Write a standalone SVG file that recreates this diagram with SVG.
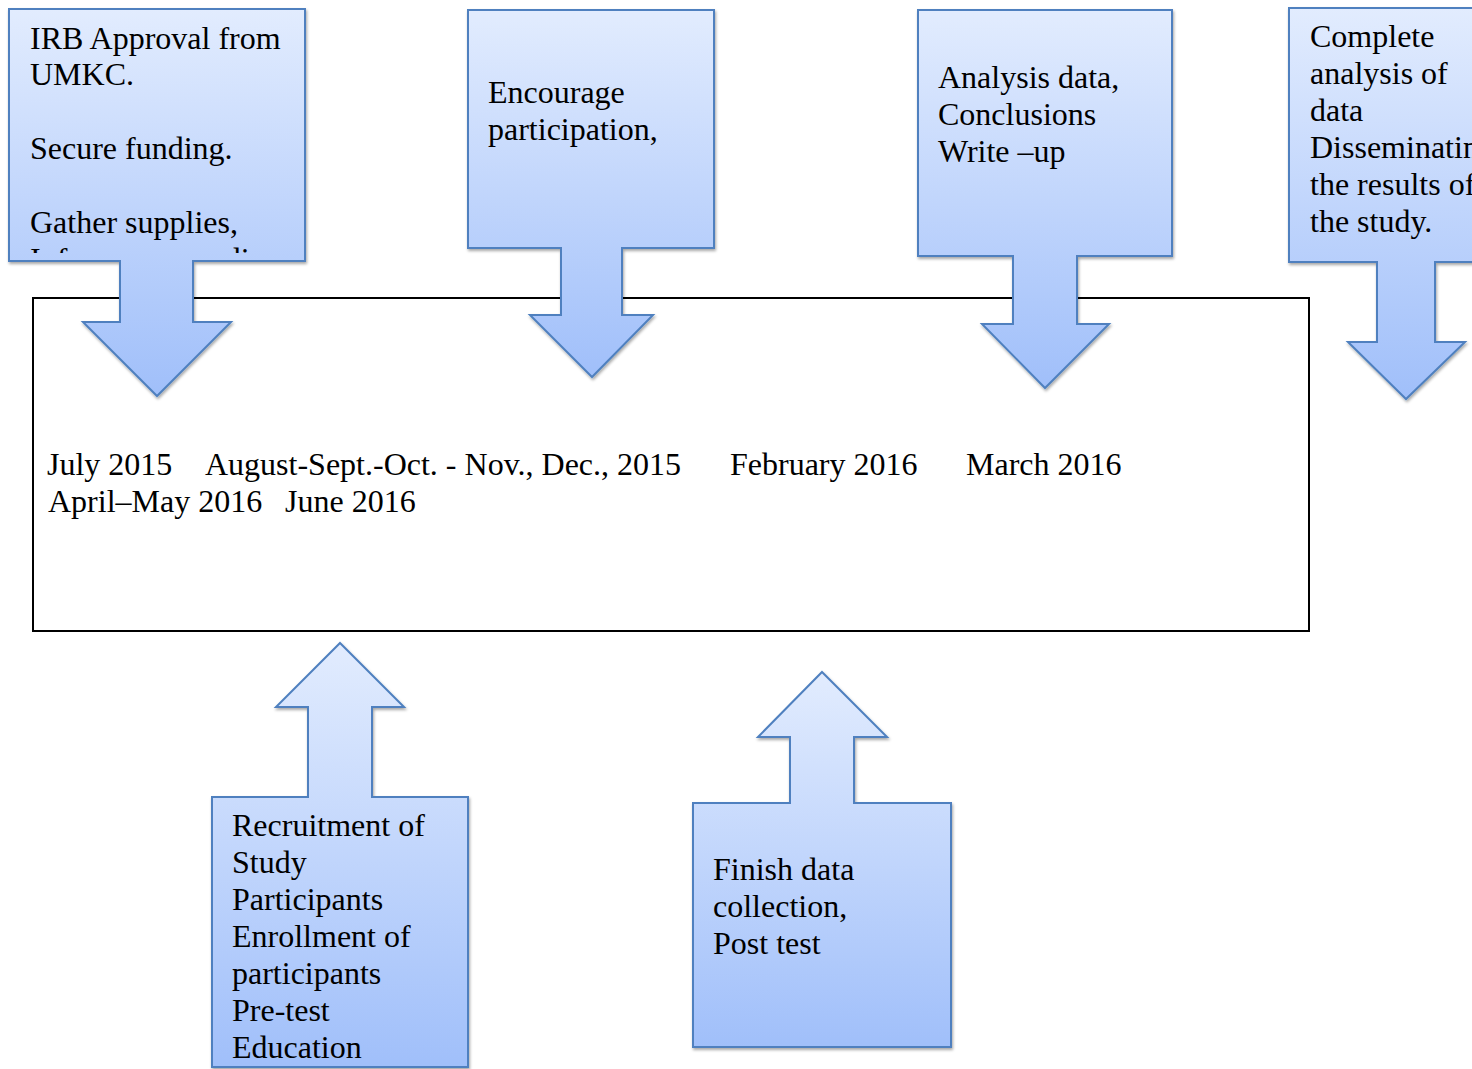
<svg xmlns="http://www.w3.org/2000/svg" width="1472" height="1069" viewBox="0 0 1472 1069">
<defs>
<linearGradient id="g" x1="0" y1="0" x2="0" y2="1">
<stop offset="0" stop-color="#e2ecfe"/>
<stop offset="1" stop-color="#a0bffa"/>
</linearGradient>
<filter id="sh" x="-5%" y="-5%" width="115%" height="115%">
<feGaussianBlur in="SourceAlpha" stdDeviation="1.5"/>
<feOffset dx="1" dy="2" result="b"/>
<feComponentTransfer><feFuncA type="linear" slope="0.35"/></feComponentTransfer>
<feMerge><feMergeNode/><feMergeNode in="SourceGraphic"/></feMerge>
</filter>
<clipPath id="c1"><rect x="9" y="9" width="296" height="244"/></clipPath>
</defs>
<style>
.co{fill:url(#g);stroke:#4f80bf;stroke-width:2;filter:url(#sh)}
.t{font-family:"Liberation Serif","Times New Roman",serif;font-size:32px;fill:#000}
.frame{fill:#fff;stroke:#000;stroke-width:2}
</style>
<rect width="1472" height="1069" fill="#fff"/>
<g id="timeline">
<rect class="frame" x="33" y="298" width="1276" height="333"/>
<text class="t" x="47" y="475">July 2015</text>
<text class="t" x="205" y="475">August-Sept.-Oct. - Nov., Dec., 2015</text>
<text class="t" x="730" y="475">February 2016</text>
<text class="t" x="966" y="475">March 2016</text>
<text class="t" x="48" y="512">April–May 2016</text>
<text class="t" x="285" y="512">June 2016</text>
</g>
<g id="connectors"></g>
<g id="callout-july">
<path class="co" d="M9,9 H305 V261 H193 V322 H231 L157,396 L83,322 H120 V261 H9 Z"/>
<g clip-path="url(#c1)">
<text class="t" x="30" y="49">IRB Approval from</text>
<text class="t" x="30" y="85">UMKC.</text>
<text class="t" x="30" y="159">Secure funding.</text>
<text class="t" x="30" y="233">Gather supplies,</text>
<text class="t" x="30" y="270">Inform surrounding</text>
</g>
</g>
<g id="callout-encourage">
<path class="co" d="M468,10 H714 V248 H622 V315 H653 L592,377 L530,315 H561 V248 H468 Z"/>
<text class="t" x="488" y="103">Encourage</text>
<text class="t" x="488" y="140">participation,</text>
</g>
<g id="callout-analysis">
<path class="co" d="M918,10 H1172 V256 H1077 V324 H1109 L1045,388 L982,324 H1013 V256 H918 Z"/>
<text class="t" x="938" y="88">Analysis data,</text>
<text class="t" x="938" y="125">Conclusions</text>
<text class="t" x="938" y="162">Write –up</text>
</g>
<g id="callout-complete">
<path class="co" d="M1289,8 H1523 V262 H1435 V342 H1465 L1406,399 L1348,342 H1377 V262 H1289 Z"/>
<text class="t" x="1310" y="47">Complete</text>
<text class="t" x="1310" y="84">analysis of</text>
<text class="t" x="1310" y="121">data</text>
<text class="t" x="1310" y="158">Disseminating</text>
<text class="t" x="1310" y="195">the results of</text>
<text class="t" x="1310" y="232">the study.</text>
</g>
<g id="callout-recruitment">
<path class="co" d="M340,643 L404,707 H372 V797 H468 V1067 H212 V797 H308 V707 H276 Z"/>
<text class="t" x="232" y="836">Recruitment of</text>
<text class="t" x="232" y="873">Study</text>
<text class="t" x="232" y="910">Participants</text>
<text class="t" x="232" y="947">Enrollment of</text>
<text class="t" x="232" y="984">participants</text>
<text class="t" x="232" y="1021">Pre-test</text>
<text class="t" x="232" y="1058">Education</text>
</g>
<g id="callout-finish">
<path class="co" d="M822,672 L887,737 H854 V803 H951 V1047 H693 V803 H790 V737 H758 Z"/>
<text class="t" x="713" y="880">Finish data</text>
<text class="t" x="713" y="917">collection,</text>
<text class="t" x="713" y="954">Post test</text>
</g>
</svg>
